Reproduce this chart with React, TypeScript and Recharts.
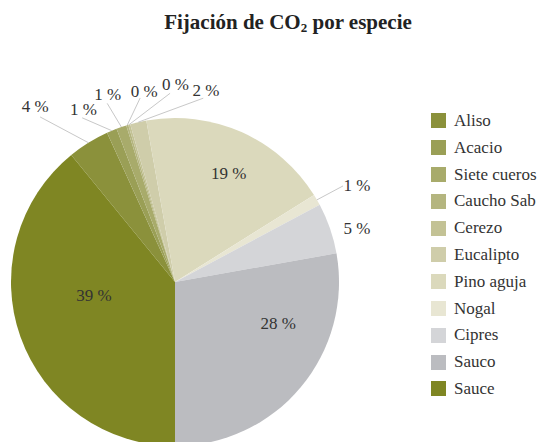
import React from "react";
import { PieChart, Pie, Cell, Legend } from "recharts";

const species = [
  "Aliso",
  "Acacio",
  "Siete cueros",
  "Caucho Sab",
  "Cerezo",
  "Eucalipto",
  "Pino aguja",
  "Nogal",
  "Cipres",
  "Sauco",
  "Sauce",
];
const shares = [4.1, 1.0, 1.0, 0.2, 0.2, 1.6, 18.9, 1.1, 5.0, 27.8, 39.1];
const colors = [
  "#8b913b",
  "#9a9f56",
  "#a8ab6b",
  "#b4b57f",
  "#c3c295",
  "#cfcdaa",
  "#dbd9bc",
  "#e8e6d3",
  "#d4d5d8",
  "#bbbcc0",
  "#7f8623",
];

const data = species.map((name, i) => ({ name, value: shares[i], color: colors[i] }));

// label placement: text/line-end radius as fraction of outerRadius, angle offset (clock degrees) from slice middle
const labelSpots: Record<string, { tr: number; ta: number; lr?: number; la?: number }> = {
  Aliso: { tr: 1.344, ta: -7.5, lr: 1.3, la: -7.4 },
  Acacio: { tr: 1.16, ta: -6.1, lr: 1.15, la: -6.8 },
  "Siete cueros": { tr: 1.185, ta: -1.2, lr: 1.165, la: -1.7 },
  "Caucho Sab": { tr: 1.146, ta: 7.5, lr: 1.142, la: 6.2 },
  Cerezo: { tr: 1.168, ta: 16.35, lr: 1.151, la: 14.7 },
  Eucalipto: { tr: 1.147, ta: 22.45, lr: 1.134, la: 21.7 },
  "Pino aguja": { tr: 0.708, ta: 3.6 },
  Nogal: { tr: 1.242, ta: 3.4, lr: 1.18, la: 0.3 },
  Cipres: { tr: 1.148, ta: 4.3 },
  Sauco: { tr: 0.692, ta: -15.5 },
  Sauce: { tr: 0.507, ta: 6.4 },
};

const FONT = '"Liberation Serif", "Times New Roman", "DejaVu Serif", serif';
const RAD = Math.PI / 180;

const polar = (cx: number, cy: number, r: number, clock: number) => ({
  x: cx + r * Math.sin(clock * RAD),
  y: cy - r * Math.cos(clock * RAD),
});

// start so that the last slice (Sauce) begins at 6 o'clock going clockwise
const total = shares.reduce((a, b) => a + b, 0);
const startAngle = 270 - (shares[shares.length - 1] / total) * 360;

const renderLabel = (props: any) => {
  const { cx, cy, midAngle, outerRadius, percent, name, index } = props;
  const spot = labelSpots[name];
  if (!spot) return null;
  const mid = 90 - midAngle;
  const t = polar(cx, cy, outerRadius * spot.tr, mid + spot.ta);
  let line = null;
  if (spot.lr !== undefined) {
    const a = polar(cx, cy, outerRadius, mid);
    const b = polar(cx, cy, outerRadius * spot.lr, mid + (spot.la || 0));
    line = (
      <polyline
        points={`${a.x},${a.y} ${b.x},${b.y}`}
        stroke="#c8c8c8"
        strokeWidth={1}
        fill="none"
      />
    );
  }
  return (
    <g key={`lbl-${index}`}>
      {line}
      <text
        x={t.x}
        y={t.y}
        textAnchor="middle"
        style={{ fontFamily: FONT }}
        fontSize={17}
        fill="#333333"
      >
        {`${Math.round(percent * 100)} %`}
      </text>
    </g>
  );
};

const renderLegend = (props: any) => {
  const items = [...(props.payload || [])].sort(
    (a: any, b: any) => species.indexOf(a.value) - species.indexOf(b.value)
  );
  return (
    <ul style={{ listStyle: "none", margin: 0, padding: 0 }}>
      {items.map((entry: any, i: number) => (
        <li
          key={`leg-${i}`}
          style={{
            display: "flex",
            alignItems: "center",
            height: 26.8,
            fontFamily: FONT,
            fontSize: 17,
            color: "#333333",
            whiteSpace: "nowrap",
          }}
        >
          <span
            style={{
              display: "inline-block",
              width: 15,
              height: 15,
              background: colors[species.indexOf(entry.value)] || entry.color,
              marginRight: 8,
            }}
          />
          {entry.value}
        </li>
      ))}
    </ul>
  );
};

export default function App() {
  return (
    <div
      style={{
        position: "absolute",
        top: 0,
        left: 0,
        width: 545,
        height: 442,
        overflow: "hidden",
        background: "#ffffff",
      }}
    >
      <div
        style={{
          position: "absolute",
          top: 11.7,
          left: 288,
          transform: "translateX(-50%)",
          fontFamily: FONT,
          fontWeight: "bold",
          fontSize: 21,
          lineHeight: "21px",
          color: "#222222",
          whiteSpace: "nowrap",
          zIndex: 2,
        }}
      >
        Fijación de CO
        <span style={{ fontSize: 13, verticalAlign: "-3px" }}>2</span> por especie
      </div>
      <PieChart width={545} height={442} margin={{ top: 0, right: 0, bottom: 0, left: 0 }}>
        <Pie
          data={data}
          dataKey="value"
          nameKey="name"
          cx={175}
          cy={282}
          outerRadius={164}
          startAngle={startAngle}
          endAngle={startAngle - 360}
          stroke="none"
          label={renderLabel}
          labelLine={false}
          isAnimationActive={false}
        >
          {data.map((d, i) => (
            <Cell key={`cell-${i}`} fill={d.color} />
          ))}
        </Pie>
        <Legend
          layout="vertical"
          align="right"
          verticalAlign="top"
          content={renderLegend}
          wrapperStyle={{ position: "absolute", top: 107.6, left: 431, width: 114 }}
        />
      </PieChart>
    </div>
  );
}
